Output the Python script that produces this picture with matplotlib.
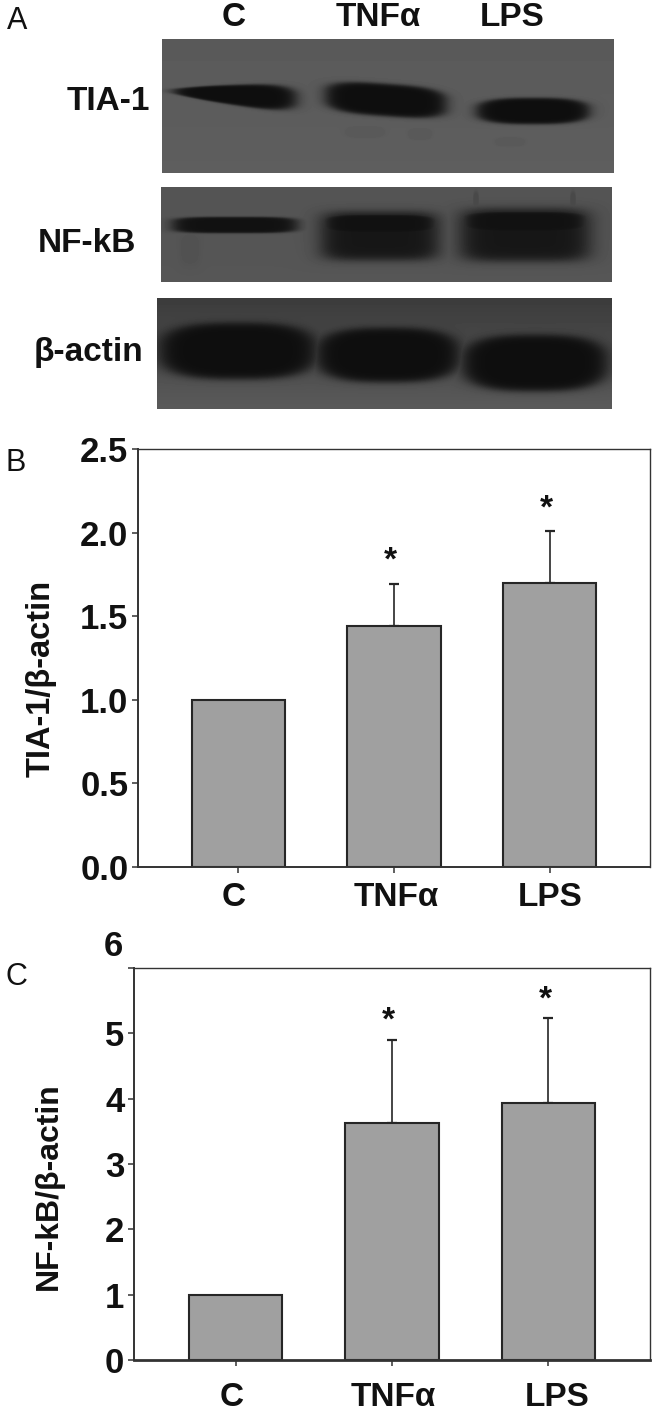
import numpy as np
import matplotlib
matplotlib.use('Agg')
import matplotlib.pyplot as plt

plt.rcParams['font.family'] = ['Liberation Sans', 'DejaVu Sans']

W, H = 656, 1415

# values
groups = ['C', 'TNFα', 'LPS']
tia_vals = [1.0, 1.44, 1.70]
tia_err = [0.0, 0.25, 0.31]
tia_stars = [1.88, 2.19]
tia_ticks = [0.0, 0.5, 1.0, 1.5, 2.0, 2.5]
tia_ticklabels = ['0.0', '0.5', '1.0', '1.5', '2.0', '2.5']
nfkb_vals = [1.0, 3.62, 3.93]
nfkb_err = [0.0, 1.28, 1.31]
nfkb_stars = [5.31, 5.63]
nfkb_ticks = [0, 1, 2, 3, 4, 5, 6]
nfkb_ticklabels = ['0', '1', '2', '3', '4', '5']


def px_axes(fig, x0, x1, y0, y1):
    # axes from pixel box (y from top of image)
    return fig.add_axes([x0 / W, 1 - y1 / H, (x1 - x0) / W, (y1 - y0) / H])


def band(xx, yy, cx, cy, a, b, dark, tilt=0.0, taper=0.0, p=3.0, soft=14.0):
    yt = yy - tilt * (xx - cx)
    be = b * np.clip(1 + taper * (xx - cx) / a, 0.3, None)
    r = (np.abs((xx - cx) / a) ** p + np.abs((yt - cy) / be) ** p) ** (1 / p)
    return dark / (1 + np.exp(soft * (r - 1)))


def blot(x0, x1, y0, y1, base_top, base_bot, bands):
    yy, xx = np.mgrid[y0:y1, x0:x1].astype(float) + 0.5
    base = base_top + (base_bot - base_top) * (yy - y0) / (y1 - y0)
    d = np.zeros_like(xx)
    for b in bands:
        d = np.maximum(d, band(xx, yy, *b[:5], **(b[5] if len(b) > 5 else {})))
    return base * (1 - d) + 14 * d


fig = plt.figure(figsize=(W / 100, H / 100), dpi=100, facecolor='white')

# overlay in image pixels for the blots and their labels
ov = fig.add_axes([0, 0, 1, 1])
ov.set_xlim(0, W)
ov.set_ylim(H, 0)
ov.axis('off')

# blot strips: cx, cy, half width, half height, strength
tia_bands = [
    (235, 95, 61, 10, 1.0, {'tilt': 0.06, 'taper': 0.55, 'p': 2.8}),
    (386, 100, 60, 16, 1.0, {'tilt': 0.07, 'p': 3.2}),
    (533, 111, 56, 13, 1.0, {'p': 2.8}),
    (365, 132, 20, 6, 0.05),
    (420, 134, 12, 6, 0.05),
    (510, 142, 16, 5, 0.04),
]
nfkb_bands = [
    (235, 225, 62, 8, 0.95, {'p': 4}),
    (190, 250, 10, 16, 0.06, {'soft': 5}),
    (380, 236, 58, 24, 0.88, {'p': 5, 'soft': 10}),
    (525, 235, 64, 26, 0.88, {'p': 5, 'soft': 10}),
    (380, 224, 56, 10, 0.95, {'p': 4}),
    (525, 222, 62, 11, 0.95, {'p': 4}),
    (476, 205, 3, 14, 0.15),
    (573, 205, 3, 14, 0.15),
]
actin_bands = [
    (238, 351, 78, 28, 1.0, {'p': 2.8}),
    (388, 355, 71, 27, 1.0, {'p': 2.8}),
    (535, 363, 72, 28, 1.0, {'p': 2.8}),
]
strips = [
    (162, 614, 39, 173, 90, 94, tia_bands),
    (161, 612, 187, 282, 84, 86, nfkb_bands),
    (157, 612, 298, 409, 60, 90, actin_bands),
]
for x0, x1, y0, y1, top, bot, bands in strips:
    ov.imshow(blot(x0, x1, y0, y1, top, bot, bands), extent=(x0, x1, y1, y0), cmap='gray',
              vmin=0, vmax=255, aspect='auto', interpolation='bilinear')
ov.set_xlim(0, W)
ov.set_ylim(H, 0)

for s, x, y in [('A', 17, 21), ('B', 16, 463), ('C', 16, 977)]:
    ov.text(x, y, s, fontsize=22, ha='center', va='center', color='#111111')
for s, x in zip(groups, [234, 378, 512]):
    ov.text(x, 17, s, fontsize=24, fontweight='bold', ha='center', va='center', color='#111111')
for s, x, y in [('TIA-1', 108, 102), ('NF-kB', 87, 243), ('β-actin', 88, 352)]:
    ov.text(x, y, s, fontsize=24, fontweight='bold', ha='center', va='center', color='#111111')


def bars(ax, vals, err, stars, ylim):
    x = np.arange(len(vals))
    ax.bar(x, vals, width=0.6, color='#a0a0a0', edgecolor='#262626', linewidth=1.5, zorder=2)
    ax.errorbar(x[1:], vals[1:], yerr=[np.zeros(2), err[1:]], fmt='none', ecolor='#262626',
                elinewidth=1.2, capsize=3.6, capthick=1.6, zorder=1)
    for xi, s in zip(x[1:], stars):
        ax.text(xi - 0.02, s - 0.02 * ylim[1], '*', fontsize=24, fontweight='bold', ha='center', va='center', color='#111111')
    ax.set_ylim(*ylim)
    ax.set_xticks(x)
    ax.set_xticklabels([])
    for name, sp in ax.spines.items():
        sp.set_color('#333333')
        sp.set_linewidth(1.4 if name in ('left', 'bottom') else 1.0)
    ax.tick_params(axis='both', length=4, width=1.1, color='#333333')
    ax.tick_params(axis='y', labelsize=25, pad=3)
    for lab in ax.get_yticklabels():
        lab.set_fontweight('bold')
        lab.set_color('#111111')


# panel B
axb = px_axes(fig, 138, 650, 449, 867)
axb.patch.set_alpha(0)
axb.set_xlim(-0.646, 2.646)
axb.set_yticks(tia_ticks)
axb.set_yticklabels(tia_ticklabels)
bars(axb, tia_vals, tia_err, tia_stars, (0, 2.5))
for s, x in zip(groups, [234, 396, 550]):
    ov.text(x, 898, s, fontsize=24, fontweight='bold', ha='center', va='center', color='#111111')
ov.text(41, 678, 'TIA-1/β-actin', fontsize=23.5, fontweight='bold', rotation=90, ha='center', va='center', color='#111111')

# panel C
axc = px_axes(fig, 134, 650, 968, 1360)
axc.patch.set_alpha(0)
axc.set_xlim(-0.649, 2.649)
axc.set_yticks(nfkb_ticks)
axc.set_yticklabels(nfkb_ticklabels + [''])
bars(axc, nfkb_vals, nfkb_err, nfkb_stars, (0, 6))
axc.spines['bottom'].set_linewidth(2.0)
ov.text(113, 947, '6', fontsize=25, fontweight='bold', ha='center', va='center', color='#111111')
for s, x in zip(groups, [232, 393, 557]):
    ov.text(x, 1397, s, fontsize=24, fontweight='bold', ha='center', va='center', color='#111111')
ov.text(49, 1186, 'NF-kB/β-actin', fontsize=23, fontweight='bold', rotation=90, ha='center', va='center', color='#111111')

fig.savefig('out.png', dpi=100)
